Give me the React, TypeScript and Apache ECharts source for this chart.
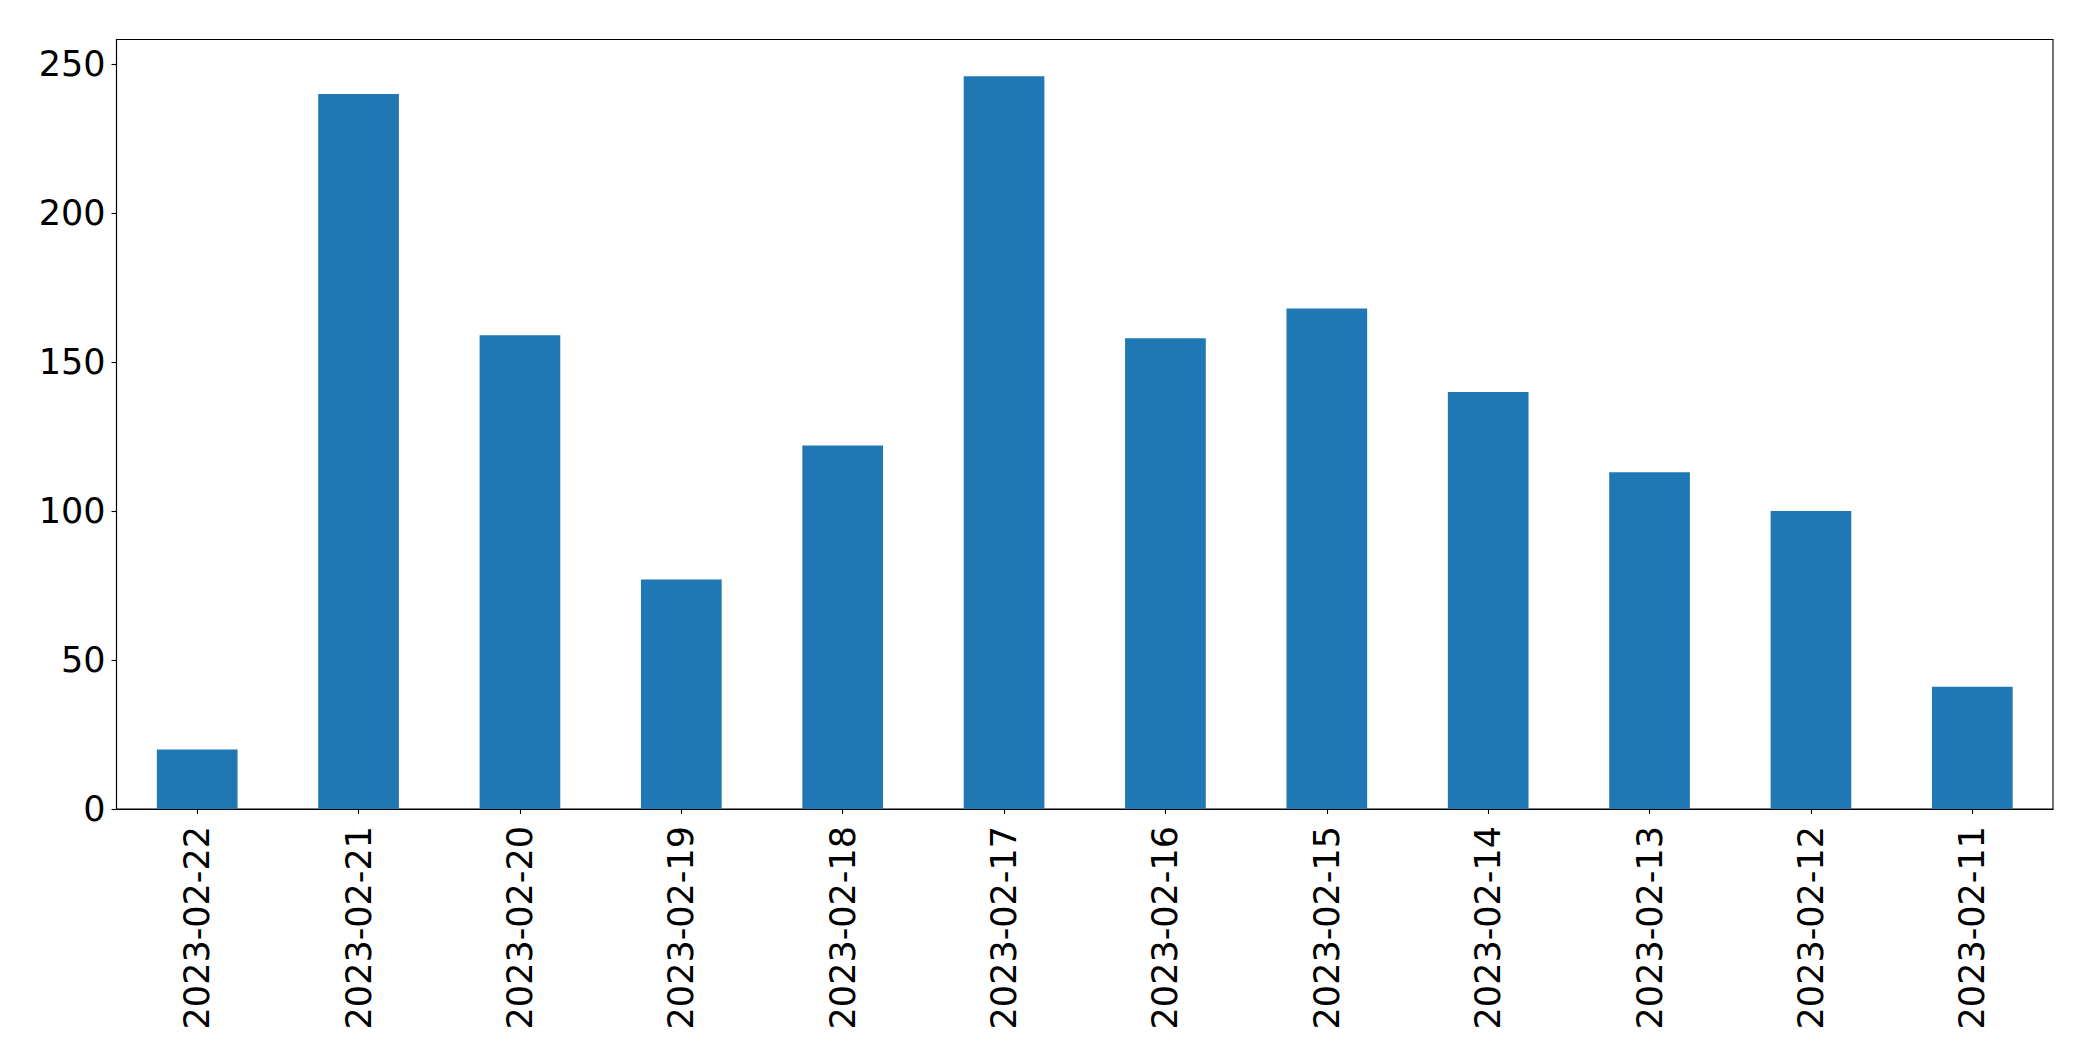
import React, { useEffect, useRef } from "react";
import * as echarts from "echarts";

const categories = [
  "2023-02-22", "2023-02-21", "2023-02-20", "2023-02-19", "2023-02-18", "2023-02-17",
  "2023-02-16", "2023-02-15", "2023-02-14", "2023-02-13", "2023-02-12", "2023-02-11",
];
const values = [20, 240, 159, 77, 122, 246, 158, 168, 140, 113, 100, 41];
const yTicks = [0, 50, 100, 150, 200, 250];

export default function App() {
  const ref = useRef<HTMLDivElement>(null);
  useEffect(() => {
    if (!ref.current) return;
    const chart = echarts.init(ref.current, undefined, { renderer: "svg" });
    const font = "DejaVu Sans";
    const yMax = Math.max(...values) * 1.05;
    chart.setOption({
      animation: false,
      backgroundColor: "#ffffff",
      grid: {
        left: 116.5,
        right: 40,
        top: 39.5,
        bottom: 252,
        show: true,
        borderColor: "#000000",
        borderWidth: 1.1,
        backgroundColor: "transparent",
      },
      xAxis: {
        type: "category",
        data: categories,
        boundaryGap: true,
        axisLine: { show: true, lineStyle: { color: "#000000", width: 1.1 } },
        axisTick: { show: true, alignWithLabel: true, length: 5, lineStyle: { color: "#000000", width: 1.1 } },
        axisLabel: {
          rotate: 90,
          margin: 17,
          color: "#000000",
          fontFamily: font,
          fontSize: 35,
          interval: 0,
        },
        splitLine: { show: false },
      },
      yAxis: {
        type: "value",
        min: 0,
        max: yMax,
        interval: 50,
        axisLine: { show: true, lineStyle: { color: "#000000", width: 1.1 } },
        axisTick: { show: true, length: 5, customValues: yTicks, lineStyle: { color: "#000000", width: 1.1 } },
        axisLabel: {
          margin: 11,
          color: "#000000",
          fontFamily: font,
          fontSize: 35,
          customValues: yTicks,
        },
        splitLine: { show: false },
      },
      series: [
        {
          type: "bar",
          data: values,
          barWidth: "50%",
          itemStyle: { color: "#1f77b4" },
        },
      ],
    });
    return () => chart.dispose();
  }, []);
  return (
    <div
      ref={ref}
      style={{ position: "fixed", left: 0, top: 0, width: 2093, height: 1061, background: "#fff" }}
    />
  );
}
